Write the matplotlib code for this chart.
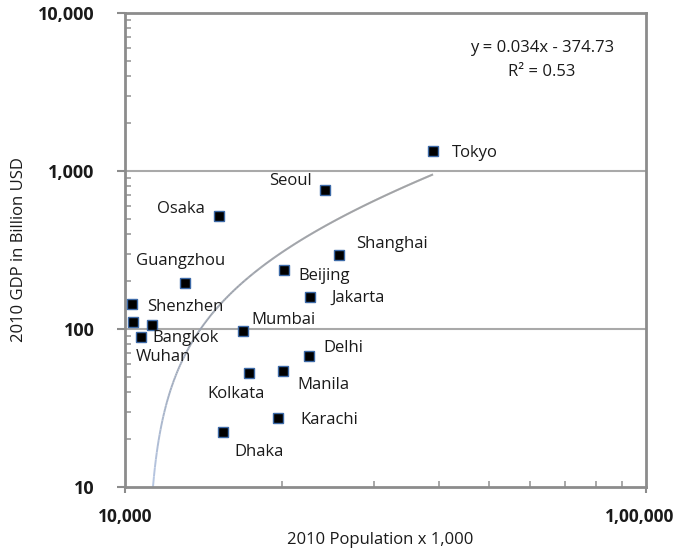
import numpy as np
import matplotlib
matplotlib.use("Agg")
import matplotlib.pyplot as plt
import matplotlib.transforms as mtransforms
from matplotlib.collections import LineCollection
from matplotlib.colors import LinearSegmentedColormap
from matplotlib.ticker import FixedLocator, FixedFormatter, NullFormatter

plt.rcParams['font.family'] = ['Open Sans', 'DejaVu Sans']

# 2010 metropolitan population (thousands) and GDP (billion USD)
cities = ["Tokyo", "Seoul", "Osaka", "Shanghai", "Guangzhou", "Beijing",
          "Jakarta", "Shenzhen", "", "Bangkok", "Wuhan", "Mumbai", "Delhi",
          "Kolkata", "Manila", "Karachi", "Dhaka"]
population = [39010, 24210, 15150, 25750, 13030, 20190,
              22650, 10310, 10360, 11270, 10730, 16850, 22550,
              17300, 20100, 19670, 15420]
gdp = [1338, 758, 519, 294, 195, 236,
       159, 144, 111, 106, 89, 97, 67.5,
       52.7, 54.2, 27.3, 22.3]

# linear trend fitted on the raw values
slope = 0.034
intercept = -374.73
r_squared = 0.53

x_ticks = [10000, 100000]
x_tick_labels = ["10,000", "1,00,000"]
y_ticks = [10, 100, 1000, 10000]
y_tick_labels = ["10", "100", "1,000", "10,000"]

# label placement (pixel offsets from each marker: dx, dy, horizontal alignment)
label_layout = {
    "Tokyo": (19, -2, "left"), "Seoul": (-13, 9, "right"),
    "Osaka": (-14, 7, "right"), "Shanghai": (17, 11, "left"),
    "Guangzhou": (-4, 22, "center"), "Beijing": (14, -6, "left"),
    "Jakarta": (21, -1, "left"), "Shenzhen": (15, -3, "left"),
    "Bangkok": (0, -13, "left"), "Wuhan": (-5, -20, "left"),
    "Mumbai": (8, 11, "left"), "Delhi": (14, 8, "left"),
    "Kolkata": (-13, -21, "center"), "Manila": (14, -14, "left"),
    "Karachi": (22, -2, "left"), "Dhaka": (11, -20, "left"),
}

fig = plt.figure(figsize=(6.79, 5.57), dpi=100)
ax = fig.add_axes([125 / 679, 70 / 557, 521 / 679, 474 / 557])
ax.set_xscale("log")
ax.set_yscale("log")
ax.set_xlim(10000, 100000)
ax.set_ylim(10, 10000)

# horizontal gridlines at the inner decades
for yv in y_ticks[1:-1]:
    ax.axhline(yv, color="#a9a9a9", lw=1.5, zorder=1)

# trend line, shaded from a pale blue at the low end to grey at the high end
xs = np.linspace(min(population), max(population), 600)
ys = slope * xs + intercept
keep = ys > 0
xs, ys = xs[keep], ys[keep]
pts = np.column_stack([xs, ys]).reshape(-1, 1, 2)
segs = np.concatenate([pts[:-1], pts[1:]], axis=1)
shade = np.clip((np.log10(ys[:-1]) - 1.0) / 1.8, 0, 1)
trend_cmap = LinearSegmentedColormap.from_list("trend", ["#b7c7e2", "#7e8084"])
lc = LineCollection(segs, cmap=trend_cmap, linewidths=1.4, zorder=2)
lc.set_array(shade)
lc.set_clim(0, 1)
ax.add_collection(lc)

# city markers
ax.plot(population, gdp, linestyle="none", marker="s", markersize=6.5,
        markerfacecolor="black", markeredgecolor="#3d6aa8", markeredgewidth=1.0,
        zorder=3)

for name, px, gy in zip(cities, population, gdp):
    if not name:
        continue
    dx, dy, ha = label_layout[name]
    ax.annotate(name, (px, gy), xytext=(dx, dy), textcoords="offset pixels",
                ha=ha, va="center", fontsize=12, color="#1a1a1a", zorder=4)

ax.text(0.80, 0.926, f"y = {slope}x - {abs(intercept)}", transform=ax.transAxes,
        ha="center", va="center", fontsize=12, color="#1a1a1a")
ax.text(0.80, 0.876, f"R² = {r_squared}", transform=ax.transAxes,
        ha="center", va="center", fontsize=12, color="#1a1a1a")

# axes styling
for sp in ax.spines.values():
    sp.set_color("#8c8c8c")
    sp.set_linewidth(2)

ax.xaxis.set_major_locator(FixedLocator(x_ticks))
ax.xaxis.set_major_formatter(FixedFormatter(x_tick_labels))
ax.yaxis.set_major_locator(FixedLocator(y_ticks))
ax.yaxis.set_major_formatter(FixedFormatter(y_tick_labels))
ax.xaxis.set_minor_formatter(NullFormatter())
ax.yaxis.set_minor_formatter(NullFormatter())

ax.tick_params(axis="y", which="major", direction="out", length=6, width=1.5,
               color="#8c8c8c", pad=16, labelsize=13)
ax.tick_params(axis="x", which="major", direction="out", length=4, width=1.5,
               color="#8c8c8c", pad=11, labelsize=12.5)
ax.tick_params(which="minor", direction="in", length=4, width=1.2,
               color="#9a9a9a")
for lab in ax.get_xticklabels() + ax.get_yticklabels():
    lab.set_fontweight("bold")
    lab.set_color("#1a1a1a")

# keep the right-hand x tick label inside the canvas
last_xlabel = ax.get_xticklabels()[-1]
last_xlabel.set_transform(last_xlabel.get_transform() +
                          mtransforms.ScaledTranslation(-0.06, 0, fig.dpi_scale_trans))

ax.set_xlabel("2010 Population x 1,000", fontsize=12, color="#1a1a1a")
ax.set_ylabel("2010 GDP in Billion USD", fontsize=12, color="#1a1a1a")
ax.xaxis.set_label_coords(0.49, -0.095)
ax.yaxis.set_label_coords(-0.188, 0.5)

fig.savefig("out.png", dpi=100)
